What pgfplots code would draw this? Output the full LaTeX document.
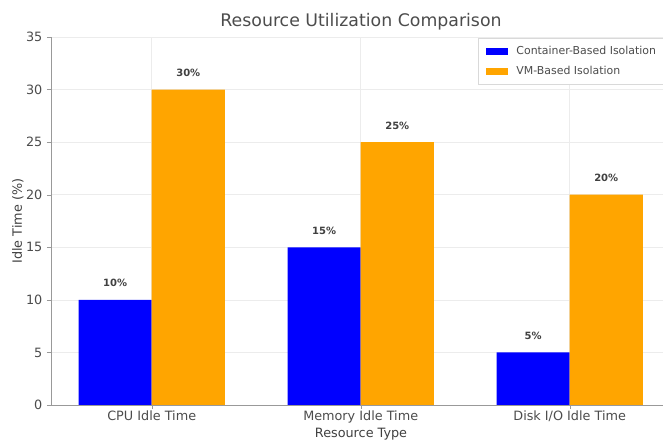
\documentclass[border=0pt]{standalone}
\usepackage{pgfplots}
\pgfplotsset{compat=1.18}
\usepackage{fontspec}
\setmainfont{DejaVu Sans}
\definecolor{vmorange}{RGB}{255,165,0}
\definecolor{ctblue}{RGB}{0,0,255}
\begin{document}
\begin{tikzpicture}
\useasboundingbox (-38.25pt,-27pt) rectangle (459pt,303.75pt);
\begin{axis}[
  at={(0,0)}, anchor=south west,
  scale only axis,
  width=465pt, height=276pt,
  xmin=-0.482, xmax=2.485,
  ymin=0, ymax=35,
  ytick={0,5,...,35},
  xtick={0,1,2},
  xticklabels={CPU Idle Time, Memory Idle Time, Disk I/O Idle Time},
  axis lines=left,
  axis line style={-, gray!80},
  tick style={gray!80},
  tick align=outside,
  major tick length=3pt,
  grid=major,
  grid style={gray!15, line width=0.5pt},
  tick label style={font=\fontsize{9.6}{11}\selectfont, text=black!70},
  xticklabel style={yshift=2.5pt},
  /pgf/number format/assume math mode=true,
  xlabel={Resource Type},
  ylabel={Idle Time (\%)},
  label style={font=\fontsize{9.6}{11}\selectfont, text=black!75},
  xlabel style={yshift=3pt},
  ylabel style={yshift=-5pt},
  title={Resource Utilization Comparison},
  title style={font=\fontsize{13}{14}\selectfont, text=black!70, yshift=-4pt},
  ybar=0pt,
  bar width=0.35,
  legend style={at={(rel axis cs:0.689,0.997)}, anchor=north west,
    font=\fontsize{8.2}{9}\selectfont, draw=gray!30, fill=white,
    text=black!70, row sep=3pt, inner xsep=5.5pt, inner ysep=4pt,
    cells={anchor=west}},
  legend image code/.code={\fill[#1] (1pt,-2.7pt) rectangle (18pt,2.7pt);\path (22pt,0pt);},
  nodes near coords={\textbf{\pgfmathprintnumber{\pgfplotspointmeta}\%}},
  every node near coord/.append style={font=\fontsize{7.5}{8}\selectfont, text=black!75, anchor=south, inner sep=0pt, yshift=9.5pt},
]
\addplot[fill=ctblue, draw=none] coordinates {(0,10) (1,15) (2,5)};
\addlegendentry{Container-Based Isolation}
\addplot[fill=vmorange, draw=none] coordinates {(0,30) (1,25) (2,20)};
\addlegendentry{VM-Based Isolation}
\end{axis}
\end{tikzpicture}
\end{document}
